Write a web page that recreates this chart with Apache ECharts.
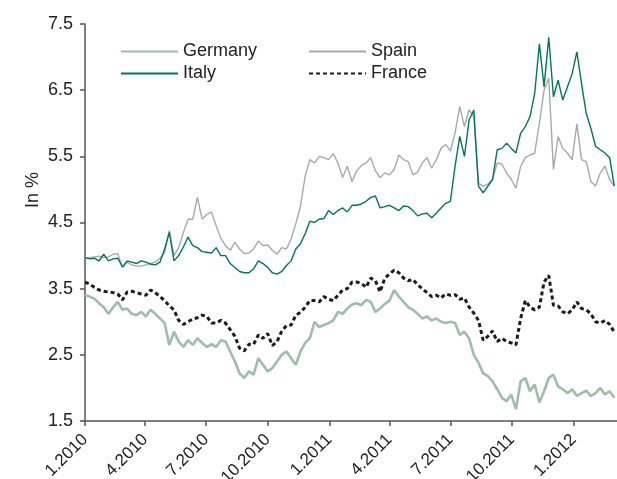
<!DOCTYPE html>
<html>
<head>
<meta charset="utf-8">
<script src="https://cdn.jsdelivr.net/npm/echarts@6/dist/echarts.min.js"></script>
<style>
    html, body { margin: 0; padding: 0; background: #fff; }
    #yield_chart { width: 617px; height: 479px; }
</style>
</head>
<body>
<div id="yield_chart"></div>
<script>
// weekly observations (Fridays)
const weeks = [
    '2010-01-01','2010-01-08','2010-01-15','2010-01-22','2010-01-29','2010-02-05','2010-02-12','2010-02-19','2010-02-26','2010-03-05',
    '2010-03-12','2010-03-19','2010-03-26','2010-04-02','2010-04-09','2010-04-16','2010-04-23','2010-04-30','2010-05-07','2010-05-14',
    '2010-05-21','2010-05-28','2010-06-04','2010-06-11','2010-06-18','2010-06-25','2010-07-02','2010-07-09','2010-07-16','2010-07-23',
    '2010-07-30','2010-08-06','2010-08-13','2010-08-20','2010-08-27','2010-09-03','2010-09-10','2010-09-17','2010-09-24','2010-10-01',
    '2010-10-08','2010-10-15','2010-10-22','2010-10-29','2010-11-05','2010-11-12','2010-11-19','2010-11-26','2010-12-03','2010-12-10',
    '2010-12-17','2010-12-24','2010-12-31','2011-01-07','2011-01-14','2011-01-21','2011-01-28','2011-02-04','2011-02-11','2011-02-18',
    '2011-02-25','2011-03-04','2011-03-11','2011-03-18','2011-03-25','2011-04-01','2011-04-08','2011-04-15','2011-04-22','2011-04-29',
    '2011-05-06','2011-05-13','2011-05-20','2011-05-27','2011-06-03','2011-06-10','2011-06-17','2011-06-24','2011-07-01','2011-07-08',
    '2011-07-15','2011-07-22','2011-07-29','2011-08-05','2011-08-12','2011-08-19','2011-08-26','2011-09-02','2011-09-09','2011-09-16',
    '2011-09-23','2011-09-30','2011-10-07','2011-10-14','2011-10-21','2011-10-28','2011-11-04','2011-11-11','2011-11-18','2011-11-25',
    '2011-12-02','2011-12-09','2011-12-16','2011-12-23','2011-12-30','2012-01-06','2012-01-13','2012-01-20','2012-01-27','2012-02-03',
    '2012-02-10','2012-02-17','2012-02-24','2012-03-02'
];

const germany = [
    3.40,3.38,3.35,3.28,3.22,3.12,3.22,3.30,3.18,3.20,
    3.12,3.10,3.15,3.08,3.18,3.12,3.05,2.98,2.65,2.85,
    2.70,2.62,2.72,2.65,2.75,2.68,2.62,2.66,2.62,2.72,
    2.70,2.55,2.40,2.22,2.15,2.25,2.20,2.45,2.35,2.25,
    2.30,2.40,2.50,2.55,2.45,2.35,2.55,2.68,2.75,3.00,
    2.92,2.95,2.98,3.02,3.15,3.12,3.20,3.26,3.28,3.25,
    3.33,3.30,3.15,3.20,3.27,3.32,3.48,3.38,3.30,3.22,
    3.18,3.12,3.05,3.08,3.02,3.05,3.00,2.98,3.00,2.98,
    2.80,2.85,2.75,2.50,2.38,2.22,2.18,2.10,1.98,1.85,
    1.80,1.90,1.68,2.10,2.15,1.95,2.05,1.78,1.95,2.15,
    2.20,2.02,1.98,1.92,1.98,1.88,1.92,1.96,1.88,1.92,
    2.00,1.90,1.95,1.85
];

const italy = [
    3.97,3.95,3.96,3.92,4.02,3.92,3.95,3.96,3.83,3.92,
    3.90,3.88,3.92,3.90,3.87,3.86,3.90,4.10,4.35,3.92,
    4.00,4.13,4.28,4.15,4.12,4.06,4.05,4.04,4.12,4.00,
    4.00,3.88,3.82,3.76,3.74,3.74,3.80,3.92,3.88,3.82,
    3.74,3.72,3.76,3.85,3.92,4.10,4.18,4.33,4.52,4.50,
    4.55,4.56,4.68,4.62,4.68,4.72,4.66,4.76,4.76,4.78,
    4.82,4.88,4.90,4.72,4.74,4.76,4.72,4.68,4.75,4.74,
    4.68,4.60,4.63,4.64,4.57,4.64,4.72,4.79,4.82,5.35,
    5.80,5.50,6.05,6.20,5.05,4.95,5.05,5.15,5.60,5.62,
    5.70,5.62,5.55,5.85,5.95,6.10,6.45,7.20,6.55,7.30,
    6.40,6.65,6.35,6.55,6.75,7.08,6.60,6.15,5.92,5.65,
    5.60,5.55,5.48,5.05
];

const spain = [
    3.96,3.97,3.98,3.99,3.97,3.98,4.02,4.03,3.82,3.90,
    3.86,3.84,3.84,3.86,3.88,3.90,3.96,4.05,4.38,4.00,
    4.12,4.35,4.55,4.55,4.88,4.55,4.62,4.66,4.45,4.26,
    4.15,4.08,4.20,4.10,4.03,4.04,4.10,4.22,4.15,4.16,
    4.08,4.02,4.12,4.10,4.25,4.48,4.75,5.20,5.45,5.40,
    5.50,5.48,5.45,5.54,5.40,5.18,5.35,5.12,5.28,5.36,
    5.40,5.48,5.28,5.18,5.25,5.22,5.30,5.52,5.45,5.42,
    5.22,5.26,5.40,5.48,5.32,5.45,5.62,5.68,5.58,5.85,
    6.25,5.95,6.20,6.10,5.09,5.05,5.08,5.15,5.40,5.38,
    5.25,5.15,5.02,5.35,5.48,5.52,5.55,6.00,6.50,6.68,
    5.30,5.80,5.62,5.55,5.45,5.99,5.45,5.42,5.12,5.05,
    5.25,5.35,5.15,5.05
];

const france = [
    3.60,3.57,3.52,3.48,3.46,3.45,3.44,3.42,3.33,3.45,
    3.46,3.44,3.42,3.40,3.48,3.44,3.38,3.32,3.24,3.18,
    3.02,2.96,3.00,3.04,3.06,3.10,3.08,2.98,2.98,3.02,
    2.98,2.88,2.78,2.60,2.56,2.66,2.66,2.80,2.75,2.82,
    2.64,2.70,2.86,2.94,2.95,3.10,3.14,3.22,3.32,3.32,
    3.30,3.38,3.34,3.32,3.40,3.48,3.50,3.60,3.60,3.58,
    3.52,3.66,3.62,3.45,3.66,3.72,3.78,3.74,3.66,3.62,
    3.64,3.56,3.50,3.44,3.38,3.40,3.36,3.42,3.40,3.41,
    3.34,3.36,3.22,3.13,3.02,2.72,2.78,2.86,2.70,2.75,
    2.70,2.68,2.65,3.05,3.32,3.22,3.18,3.22,3.60,3.70,
    3.25,3.24,3.15,3.12,3.18,3.30,3.20,3.18,3.12,3.00,
    2.98,3.02,2.96,2.84
];

const xTicks = ['2010-01-01','2010-04-01','2010-07-01','2010-10-01','2011-01-01','2011-04-01','2011-07-01','2011-10-01','2012-01-01'];
const yTicks = [1.5, 2.5, 3.5, 4.5, 5.5, 6.5, 7.5];

const FONT = '"Liberation Sans", Arial, sans-serif';
const toTime = s => new Date(s + 'T00:00:00').getTime();
const pairs = arr => arr.map((v, i) => [toTime(weeks[i]), v]);

const chart = echarts.init(document.getElementById('yield_chart'), null, { renderer: 'canvas' });

const lineSeries = (name, data, color, width, type) => ({
    name: name,
    type: 'line',
    data: pairs(data),
    symbol: 'none',
    smooth: false,
    lineStyle: { color: color, width: width, type: type || 'solid' },
    itemStyle: { color: color }
});

const legendBase = {
    orient: 'vertical',
    top: 42,
    padding: 0,
    itemWidth: 57,
    itemHeight: 14,
    itemGap: 3,
    itemStyle: { opacity: 0 },
    textStyle: { fontSize: 18, color: '#222', fontFamily: FONT, lineHeight: 19 }
};

const option = {
    animation: false,
    backgroundColor: '#fff',
    textStyle: { fontFamily: FONT },
    grid: { left: 85, right: 0, top: 24, bottom: 58, containLabel: false, outerBoundsMode: 'none' },
    legend: [
        Object.assign({}, legendBase, { data: ['Germany', 'Italy'], left: 120 }),
        Object.assign({}, legendBase, { data: ['Spain', 'France'], left: 308 })
    ],
    xAxis: {
        type: 'value',
        min: toTime('2010-01-01'),
        max: toTime('2012-03-06'),
        axisLine: { lineStyle: { color: '#555', width: 1.5 } },
        axisTick: { show: true, length: 5, lineStyle: { color: '#555', width: 1.5 }, customValues: xTicks.map(toTime) },
        axisLabel: {
            customValues: xTicks.map(toTime),
            rotate: 45,
            margin: 16,
            fontSize: 17,
            color: '#222',
            fontFamily: FONT,
            formatter: v => {
                const d = new Date(v);
                return (d.getMonth() + 1) + '.' + d.getFullYear();
            }
        },
        splitLine: { show: false }
    },
    yAxis: {
        type: 'value',
        min: 1.5,
        max: 7.5,
        axisLine: { show: true, lineStyle: { color: '#555', width: 1.5 } },
        axisTick: { show: true, length: 5, lineStyle: { color: '#555', width: 1.5 }, customValues: yTicks },
        axisLabel: {
            customValues: yTicks,
            margin: 12,
            fontSize: 18,
            color: '#222',
            fontFamily: FONT,
            formatter: v => v.toFixed(1)
        },
        splitLine: { show: false }
    },
    graphic: [
        {
            type: 'text',
            x: 33,
            y: 190,
            rotation: Math.PI / 2,
            style: { text: 'In %', font: '18px ' + FONT, fill: '#222', textAlign: 'center', textVerticalAlign: 'middle' }
        }
    ],
    series: [
        lineSeries('Germany', germany, '#9fbdab', 2.6),
        lineSeries('Spain', spain, '#a9a9a9', 1.4),
        lineSeries('Italy', italy, '#00775a', 1.4),
        lineSeries('France', france, '#1c1c1c', 3, [4, 3])
    ]
};

chart.setOption(option);
</script>
</body>
</html>
